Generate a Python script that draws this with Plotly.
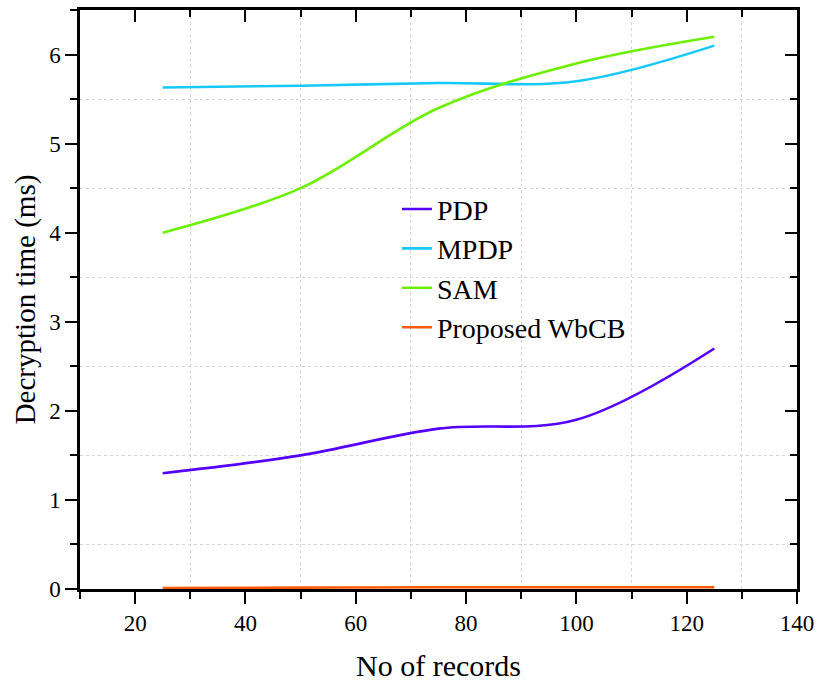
import plotly.graph_objects as go

records = [25, 50, 75, 100, 125]
pdp = [1.30, 1.50, 1.80, 1.90, 2.70]
mpdp = [5.63, 5.65, 5.68, 5.70, 6.10]
sam = [4.00, 4.50, 5.40, 5.90, 6.20]
wbcb = [0.01, 0.015, 0.02, 0.02, 0.02]

series = [("PDP", pdp, "#5500FF"), ("MPDP", mpdp, "#18C8FA"),
          ("SAM", sam, "#6CF000"), ("Proposed WbCB", wbcb, "#FF5A0A")]

FONT = "Liberation Serif, Times New Roman, serif"
fig = go.Figure()
for name, vals, col in series:
    fig.add_trace(go.Scatter(x=records, y=vals, name=name, mode="lines",
                             line=dict(color=col, width=2.6, shape="spline", smoothing=1.0)))

# dummy traces to activate the mirrored top/right axes
fig.add_trace(go.Scatter(x=records, y=wbcb, xaxis="x2", yaxis="y", mode="lines",
                         line=dict(width=0), showlegend=False, hoverinfo="skip", opacity=0))
fig.add_trace(go.Scatter(x=records, y=wbcb, xaxis="x", yaxis="y2", mode="lines",
                         line=dict(width=0), showlegend=False, hoverinfo="skip", opacity=0))

grid = dict(showgrid=True, gridcolor="#D6D6D6", griddash="3px,3px", gridwidth=1)
common = dict(showline=True, linecolor="black", linewidth=2.5, zeroline=False,
              showgrid=False, tickcolor="black", tickwidth=2, ticklen=12, automargin=False,
              tickfont=dict(family=FONT, size=23, color="black"))

fig.update_layout(
    width=817, height=682,
    margin=dict(l=80, r=20, t=10, b=93),
    plot_bgcolor="white", paper_bgcolor="white",
    font=dict(family=FONT, color="black"),
    xaxis=dict(range=[10, 140], tick0=20, dtick=20, ticks="outside",
               minor=dict(dtick=10, tick0=10, ticks="outside", ticklen=7, tickwidth=2,
                          tickcolor="black", **grid),
               title=dict(text="No of records", font=dict(family=FONT, size=30), standoff=20),
               **common),
    yaxis=dict(range=[0, 6.5], tick0=0, dtick=1, ticks="outside",
               minor=dict(dtick=0.5, tick0=0, ticks="outside", ticklen=7, tickwidth=2,
                          tickcolor="black", **grid),
               title=dict(text="Decryption time (ms)", font=dict(family=FONT, size=29), standoff=6),
               **common),
    xaxis2=dict(overlaying="x", side="top", anchor="y", range=[10, 140], tick0=20, dtick=20,
                ticks="inside", showticklabels=False, showline=True, linecolor="black",
                linewidth=2.5, tickcolor="black", tickwidth=2, ticklen=12, showgrid=False,
                zeroline=False, automargin=False,
                minor=dict(dtick=10, tick0=10, ticks="inside", ticklen=7, tickwidth=2,
                           tickcolor="black", showgrid=False)),
    yaxis2=dict(overlaying="y", side="right", anchor="x", range=[0, 6.5], tick0=0, dtick=1,
                ticks="inside", showticklabels=False, showline=True, linecolor="black",
                linewidth=2.5, tickcolor="black", tickwidth=2, ticklen=12, showgrid=False,
                zeroline=False, automargin=False,
                minor=dict(dtick=0.5, tick0=0, ticks="inside", ticklen=7, tickwidth=2,
                           tickcolor="black", showgrid=False)),
    legend=dict(x=0.442, y=0.699, xanchor="left", yanchor="top", bgcolor="rgba(0,0,0,0)",
                font=dict(family=FONT, size=28, color="black"), itemwidth=30,
                tracegroupgap=0),
    showlegend=True,
)

fig.write_html("out.html")
